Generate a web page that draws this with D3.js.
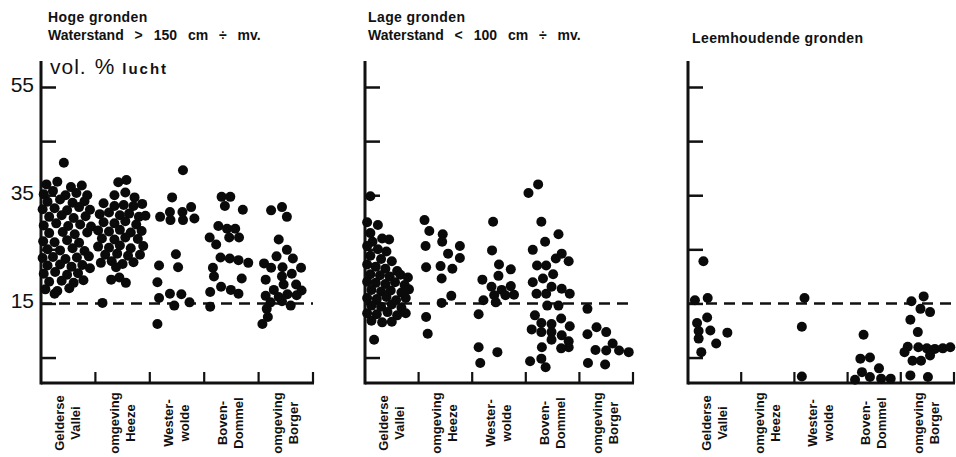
<!DOCTYPE html>
<html>
<head>
<meta charset="utf-8">
<script src="https://cdn.jsdelivr.net/npm/d3@7"></script>
<style>
body { margin: 0; background: #fff; }
text { font-family: "Liberation Sans", Arial, sans-serif; fill: #111; }
</style>
</head>
<body>
<div id="chart"></div>
<script>
const width = 956,
    height = 457;

const categories = [
    ['Gelderse', 'Vallei'],
    ['omgeving', 'Heeze'],
    ['Wester-', 'wolde'],
    ['Boven-', 'Dommel'],
    ['omgeving', 'Borger']
];
const yTicks = [5, 15, 25, 35, 45, 55];
const yLabels = [55, 35, 15];
const normLine = 15;

// each dot: [spread inside the category 0..1, vol. % lucht]
const hoge = [
    [[0.42,41.0],
     [0.10,37.0],[0.30,37.5],[0.55,36.5],[0.75,36.8],
     [0.05,35.2],[0.22,35.8],[0.45,35.0],[0.65,35.4],[0.85,35.0],
     [0.12,33.8],[0.35,34.2],[0.58,33.6],[0.80,33.9],
     [0.03,32.4],[0.25,32.6],[0.48,32.2],[0.70,32.8],[0.90,32.3],
     [0.15,31.0],[0.38,31.3],[0.60,30.8],[0.82,31.1],
     [0.05,29.4],[0.28,29.8],[0.50,29.3],[0.72,29.6],[0.92,29.2],
     [0.15,28.0],[0.40,28.2],[0.62,27.8],[0.85,28.1],
     [0.04,26.5],[0.25,26.3],[0.48,26.7],[0.70,26.2],
     [0.12,25.0],[0.35,24.8],[0.58,25.2],[0.80,24.7],
     [0.03,23.4],[0.22,23.6],[0.45,23.2],[0.66,23.5],[0.88,23.7],
     [0.12,22.0],[0.35,22.2],[0.56,21.8],[0.76,22.1],[0.90,21.5],
     [0.05,20.5],[0.26,20.8],[0.48,20.3],[0.68,20.6],
     [0.15,19.0],[0.38,19.2],[0.60,18.8],[0.78,19.3],
     [0.08,17.6],[0.30,17.3],[0.52,17.8],
     [0.25,16.8]],
    [[0.42,37.4],[0.57,37.8],
     [0.35,35.0],[0.55,35.5],[0.72,34.6],
     [0.15,33.5],[0.35,33.0],[0.52,33.2],[0.70,33.0],[0.86,33.4],
     [0.08,31.5],[0.25,31.8],[0.45,31.3],[0.62,31.6],[0.80,31.0],[0.92,31.2],
     [0.15,30.0],[0.35,29.8],[0.55,30.2],[0.75,29.6],
     [0.05,28.5],[0.25,28.3],[0.45,28.6],[0.65,28.1],[0.85,28.4],
     [0.12,27.0],[0.35,26.8],[0.55,27.2],[0.78,26.9],
     [0.05,25.5],[0.25,25.3],[0.45,25.7],[0.65,25.2],[0.88,25.6],
     [0.18,24.0],[0.40,24.2],[0.60,23.8],[0.82,24.0],
     [0.10,22.5],[0.30,22.8],[0.50,22.3],[0.70,22.6],
     [0.38,21.7],
     [0.29,19.4],[0.44,19.8],[0.56,18.8],
     [0.13,15.1]],
    [[0.61,39.6],[0.41,34.6],
     [0.19,31.0],[0.37,31.9],[0.38,30.4],[0.60,31.9],[0.76,32.8],[0.61,30.4],[0.82,30.7],
     [0.48,24.1],[0.17,22.0],[0.52,21.7],
     [0.14,18.9],[0.17,16.0],[0.37,16.8],[0.58,16.7],[0.45,14.6],[0.73,15.2],
     [0.14,11.2]],
    [[0.32,34.7],[0.48,34.7],[0.38,33.0],[0.71,32.3],
     [0.26,29.3],[0.42,28.8],[0.57,28.8],[0.46,27.2],[0.64,27.2],[0.10,27.2],
     [0.22,25.9],[0.30,23.5],[0.47,23.3],[0.63,23.0],[0.81,22.5],
     [0.16,21.6],[0.18,20.0],[0.69,19.6],
     [0.31,18.1],[0.49,17.5],[0.63,16.8],[0.11,17.1],[0.11,14.4]],
    [[0.23,32.2],[0.43,32.8],[0.52,31.0],
     [0.37,26.8],[0.52,24.9],[0.33,23.7],[0.63,23.3],
     [0.10,22.4],[0.23,21.6],[0.44,21.7],[0.78,21.6],[0.61,20.5],
     [0.13,19.4],[0.43,20.0],[0.28,17.5],[0.46,18.5],[0.69,18.5],[0.79,17.4],
     [0.13,16.4],[0.37,16.2],[0.53,16.7],[0.70,16.5],
     [0.22,15.2],[0.43,15.4],[0.59,14.6],
     [0.15,14.0],[0.17,12.5],[0.07,11.2]]
];

const lage = [
    [[0.10,34.8],
     [0.04,30.0],[0.24,29.5],
     [0.10,28.0],[0.32,27.0],[0.14,26.4],[0.45,26.8],
     [0.04,25.6],[0.24,25.0],[0.40,24.6],
     [0.10,23.8],[0.30,23.2],[0.50,22.8],
     [0.04,22.2],[0.20,21.8],[0.38,21.4],[0.60,21.0],
     [0.10,20.4],[0.28,20.2],[0.46,20.0],[0.66,20.3],[0.80,19.8],
     [0.04,19.0],[0.20,18.8],[0.38,18.6],[0.56,18.9],[0.74,18.4],
     [0.12,17.5],[0.30,17.2],[0.48,17.4],[0.68,17.0],[0.82,17.6],
     [0.04,16.0],[0.22,15.8],[0.40,16.2],[0.58,15.6],[0.76,16.0],
     [0.12,14.6],[0.30,14.4],[0.50,14.8],[0.68,14.2],
     [0.04,13.2],[0.22,13.0],[0.42,13.4],[0.60,12.8],[0.76,13.2],
     [0.12,11.8],[0.32,11.5],[0.50,11.6],
     [0.17,8.3]],
    [[0.11,30.4],[0.20,28.4],[0.13,25.6],[0.45,27.8],[0.44,26.4],[0.55,24.2],
     [0.77,25.6],[0.77,23.4],[0.14,21.7],[0.41,21.9],[0.63,21.4],[0.43,19.6],
     [0.61,16.4],[0.43,15.1],[0.14,12.5],[0.17,9.4]],
    [[0.39,30.1],[0.37,24.8],[0.50,22.2],[0.72,21.3],[0.49,20.1],[0.19,19.4],
     [0.36,18.1],[0.72,18.2],[0.55,17.5],[0.41,16.5],[0.78,16.6],[0.62,16.5],
     [0.21,15.6],[0.44,15.2],[0.12,13.0],[0.12,6.9],[0.47,6.0],[0.15,4.0]],
    [[0.05,35.4],[0.23,37.0],[0.29,30.1],[0.61,27.8],[0.36,26.4],[0.13,24.9],
     [0.21,22.0],[0.38,22.0],[0.67,24.2],[0.56,23.3],[0.80,22.8],[0.51,20.4],
     [0.32,19.6],[0.13,18.9],[0.48,18.1],[0.20,16.8],[0.38,16.8],[0.67,17.7],
     [0.82,16.8],[0.40,14.6],[0.61,14.6],[0.17,12.8],[0.29,11.4],[0.11,10.2],
     [0.29,9.7],[0.48,11.2],[0.66,12.2],[0.82,10.8],[0.48,9.7],[0.67,9.1],
     [0.48,8.3],[0.80,8.0],[0.80,6.9],[0.66,6.7],[0.30,6.9],[0.29,4.8],
     [0.08,4.3],[0.37,3.2]],
    [[0.15,14.0],[0.32,10.6],[0.50,9.7],[0.15,9.3],[0.62,7.6],[0.30,6.4],
     [0.50,6.3],[0.74,6.3],[0.92,6.0],[0.16,4.0],[0.48,3.7]]
];

const leem = [
    [[0.29,22.8],[0.13,15.6],[0.37,16.0],[0.36,12.4],[0.17,11.4],[0.42,10.0],
     [0.74,9.6],[0.20,9.9],[0.20,8.5],[0.53,7.6],[0.25,6.0]],
    [],
    [[0.19,16.0],[0.14,10.7],[0.14,1.5]],
    [[0.30,9.2],[0.24,4.8],[0.42,5.0],[0.59,3.0],[0.27,2.3],[0.42,1.4],
     [0.63,1.1],[0.81,1.1],[0.14,0.9]],
    [[0.20,15.4],[0.43,16.3],[0.37,14.0],[0.55,13.4],[0.18,12.0],[0.32,9.7],
     [0.13,7.0],[0.33,6.9],[0.49,6.7],[0.64,6.6],[0.79,6.7],[0.93,6.9],
     [0.07,6.0],[0.22,4.4],[0.38,4.4],[0.55,5.4],[0.18,1.7],[0.51,1.4]]
];

const panels = [
    {title: 'Hoge gronden', sub: 'Waterstand > 150 cm ÷ mv.', dots: hoge, x0: 41, x1: 313, tx: 48, ty: 22},
    {title: 'Lage gronden', sub: 'Waterstand < 100 cm ÷ mv.', dots: lage, x0: 365, x1: 633, tx: 368, ty: 22},
    {title: 'Leemhoudende gronden', sub: null, dots: leem, x0: 688, x1: 954, tx: 692, ty: 43}
];

const axisTop = 61,
    baseY = 383,
    dotR = 5;

const y = d3.scaleLinear()
    .domain([0, 55])
    .range([384.6, 87]);

let svg = d3.select('#chart').append('svg')
    .attr('width', width)
    .attr('height', height);

panels.forEach((p, pi) => {
    let band = d3.scaleBand()
        .domain(d3.range(categories.length))
        .range([p.x0, p.x1]);
    let spread = d3.scaleLinear()
        .domain([0, 1])
        .range([0, band.bandwidth()]);

    let g = svg.append('g');

    // titles
    g.append('text')
        .attr('x', p.tx)
        .attr('y', p.ty)
        .style('font-size', '14px')
        .style('font-weight', 'bold')
        .style('letter-spacing', '0.4px')
        .text(p.title);
    if (p.sub) {
        g.append('text')
            .attr('x', p.tx)
            .attr('y', p.ty + 18)
            .style('font-size', '14px')
            .style('font-weight', 'bold')
            .style('word-spacing', '7px')
            .text(p.sub);
    }

    // y axis
    g.append('line')
        .attr('x1', p.x0).attr('x2', p.x0)
        .attr('y1', axisTop).attr('y2', baseY + 1.5)
        .attr('stroke', '#111')
        .attr('stroke-width', 3);

    let yAxis = g.append('g')
        .attr('transform', 'translate(' + p.x0 + ',0)')
        .call(d3.axisRight(y).tickValues(yTicks).tickSize(15).tickFormat(''));
    yAxis.select('.domain').remove();
    yAxis.selectAll('line').attr('stroke', '#111').attr('stroke-width', 2.5);

    // x baseline and category separators
    g.append('line')
        .attr('x1', p.x0).attr('x2', p.x1 + 1)
        .attr('y1', baseY).attr('y2', baseY)
        .attr('stroke', '#111')
        .attr('stroke-width', 3);

    g.selectAll('.sep')
        .data(d3.range(categories.length))
        .enter().append('line')
        .attr('x1', i => band(i) + band.bandwidth())
        .attr('x2', i => band(i) + band.bandwidth())
        .attr('y1', baseY - 11)
        .attr('y2', baseY)
        .attr('stroke', '#111')
        .attr('stroke-width', 2.2);

    // dashed 15 % line
    g.append('line')
        .attr('x1', p.x0).attr('x2', p.x1)
        .attr('y1', y(normLine)).attr('y2', y(normLine))
        .attr('stroke', '#111')
        .attr('stroke-width', 2.5)
        .attr('stroke-dasharray', '11,7');

    // dots
    p.dots.forEach((cat, ci) => {
        g.selectAll('.dot' + ci)
            .data(cat)
            .enter().append('circle')
            .attr('cx', d => band(ci) + spread(d[0]))
            .attr('cy', d => y(d[1]))
            .attr('r', dotR)
            .attr('fill', '#0a0a0a');
    });

    // category labels (rotated)
    let lab = g.selectAll('.lab')
        .data(categories)
        .enter().append('g')
        .attr('transform', (d, i) => 'translate(' + (band(i) + band.bandwidth() / 2) + ',423)');
    lab.append('text')
        .attr('transform', 'translate(-4,0) rotate(-90)')
        .style('text-anchor', 'middle')
        .style('font-size', '13px')
        .style('font-weight', 'bold')
        .text(d => d[0]);
    lab.append('text')
        .attr('transform', 'translate(12,0) rotate(-90)')
        .style('text-anchor', 'middle')
        .style('font-size', '13px')
        .style('font-weight', 'bold')
        .text(d => d[1]);

    if (pi === 0) {
        g.selectAll('.ylab')
            .data(yLabels)
            .enter().append('text')
            .attr('x', p.x0 - 7)
            .attr('y', d => y(d) + 5)
            .style('text-anchor', 'end')
            .style('font-size', '21px')
            .text(d => d);

        let unit = g.append('text')
            .attr('x', p.x0 + 9)
            .attr('y', 74);
        unit.append('tspan').style('font-size', '21px').style('letter-spacing', '1px').text('vol.');
        unit.append('tspan').style('font-size', '22px').attr('dx', 8).text('%');
        unit.append('tspan').style('font-size', '15px').style('font-weight', 'bold')
            .style('letter-spacing', '2px').attr('dx', 8).text('lucht');
    }
});
</script>
</body>
</html>
